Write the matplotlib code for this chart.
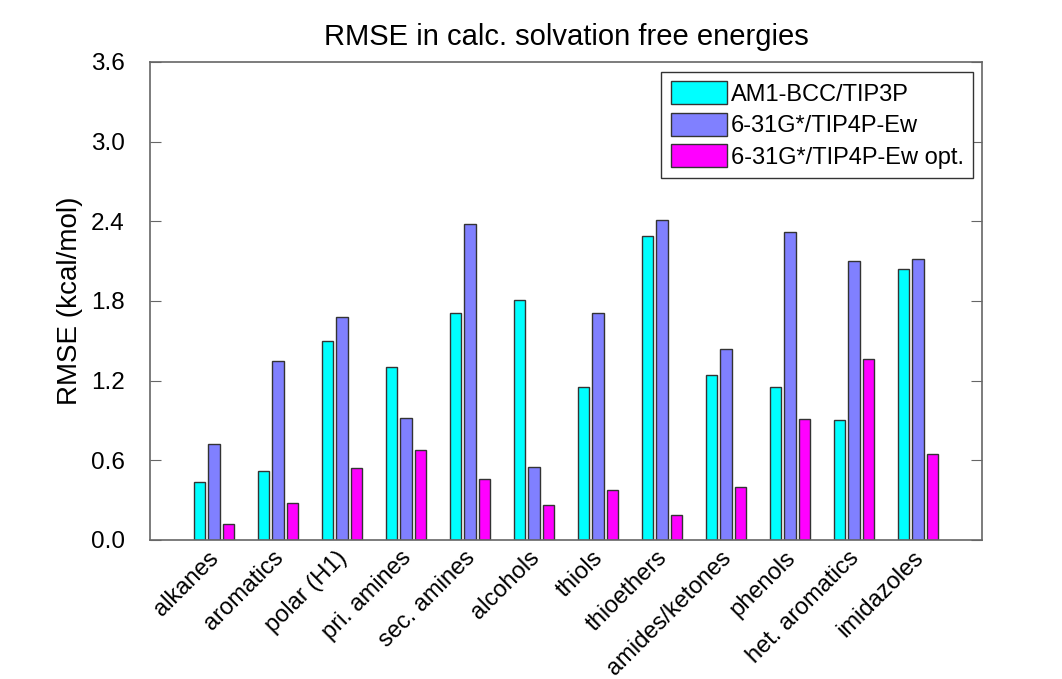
import numpy as np
import matplotlib
matplotlib.use("Agg")
import matplotlib.pyplot as plt
import matplotlib.transforms as mtransforms

plt.rcParams["font.family"] = ["Liberation Sans", "DejaVu Sans"]

categories = ["alkanes", "aromatics", "polar (H1)", "pri. amines", "sec. amines",
              "alcohols", "thiols", "thioethers", "amides/ketones", "phenols",
              "het. aromatics", "imidazoles"]
series_names = ["AM1-BCC/TIP3P", "6-31G*/TIP4P-Ew", "6-31G*/TIP4P-Ew opt."]
am1bcc = [0.44, 0.52, 1.50, 1.30, 1.71, 1.81, 1.15, 2.29, 1.24, 1.15, 0.90, 2.04]
g631 = [0.72, 1.35, 1.68, 0.92, 2.38, 0.55, 1.71, 2.41, 1.44, 2.32, 2.10, 2.12]
g631_opt = [0.12, 0.28, 0.54, 0.68, 0.46, 0.26, 0.38, 0.19, 0.40, 0.91, 1.36, 0.65]
colors = ["#00FFFF", "#8080FF", "#FF00FF"]

fig = plt.figure(figsize=(10.62, 6.79), dpi=100)
ax = fig.add_axes([150 / 1062, 1 - 540 / 679, 832 / 1062, 478 / 679])

x = np.arange(1, len(categories) + 1)
offsets = [-0.223, 0.0, 0.223]
for vals, name, c, off in zip([am1bcc, g631, g631_opt], series_names, colors, offsets):
    ax.bar(x + off, vals, width=0.18, color=c, edgecolor="#333333",
           linewidth=1.0, label=name)

ax.set_xlim(0, 13)
ax.set_ylim(0, 3.6)
ax.set_yticks(np.arange(0, 3.61, 0.6))
ax.set_yticklabels([f"{v:.1f}" for v in np.arange(0, 3.61, 0.6)])
ax.set_xticks(x)
ax.set_xticklabels(categories, rotation=45, ha="right", rotation_mode="anchor")
ax.tick_params(axis="x", length=0, labelsize=17, pad=5)
ax.tick_params(axis="y", direction="in", length=8, labelsize=17.5, pad=18,
               right=True, color="#666666")
# nudge the rotated category labels a little to the left
shift = mtransforms.ScaledTranslation(-6 / 100, 0, fig.dpi_scale_trans)
for lab in ax.get_xticklabels():
    lab.set_transform(lab.get_transform() + shift)
for s in ax.spines.values():
    s.set_color("#666666")
    s.set_linewidth(1.2)

ax.set_ylabel("RMSE (kcal/mol)", fontsize=20, labelpad=6)
ax.set_title("RMSE in calc. solvation free energies", fontsize=21, pad=12)

leg = ax.legend(loc="upper right", bbox_to_anchor=(0.9895, 0.979), fontsize=17,
                fancybox=False, framealpha=1, edgecolor="#333333",
                handlelength=2.4, handleheight=1.1, handletextpad=0.15,
                borderpad=0.4, labelspacing=0.3, borderaxespad=0)
leg.get_frame().set_linewidth(1.0)

fig.savefig("out.png", dpi=100)
